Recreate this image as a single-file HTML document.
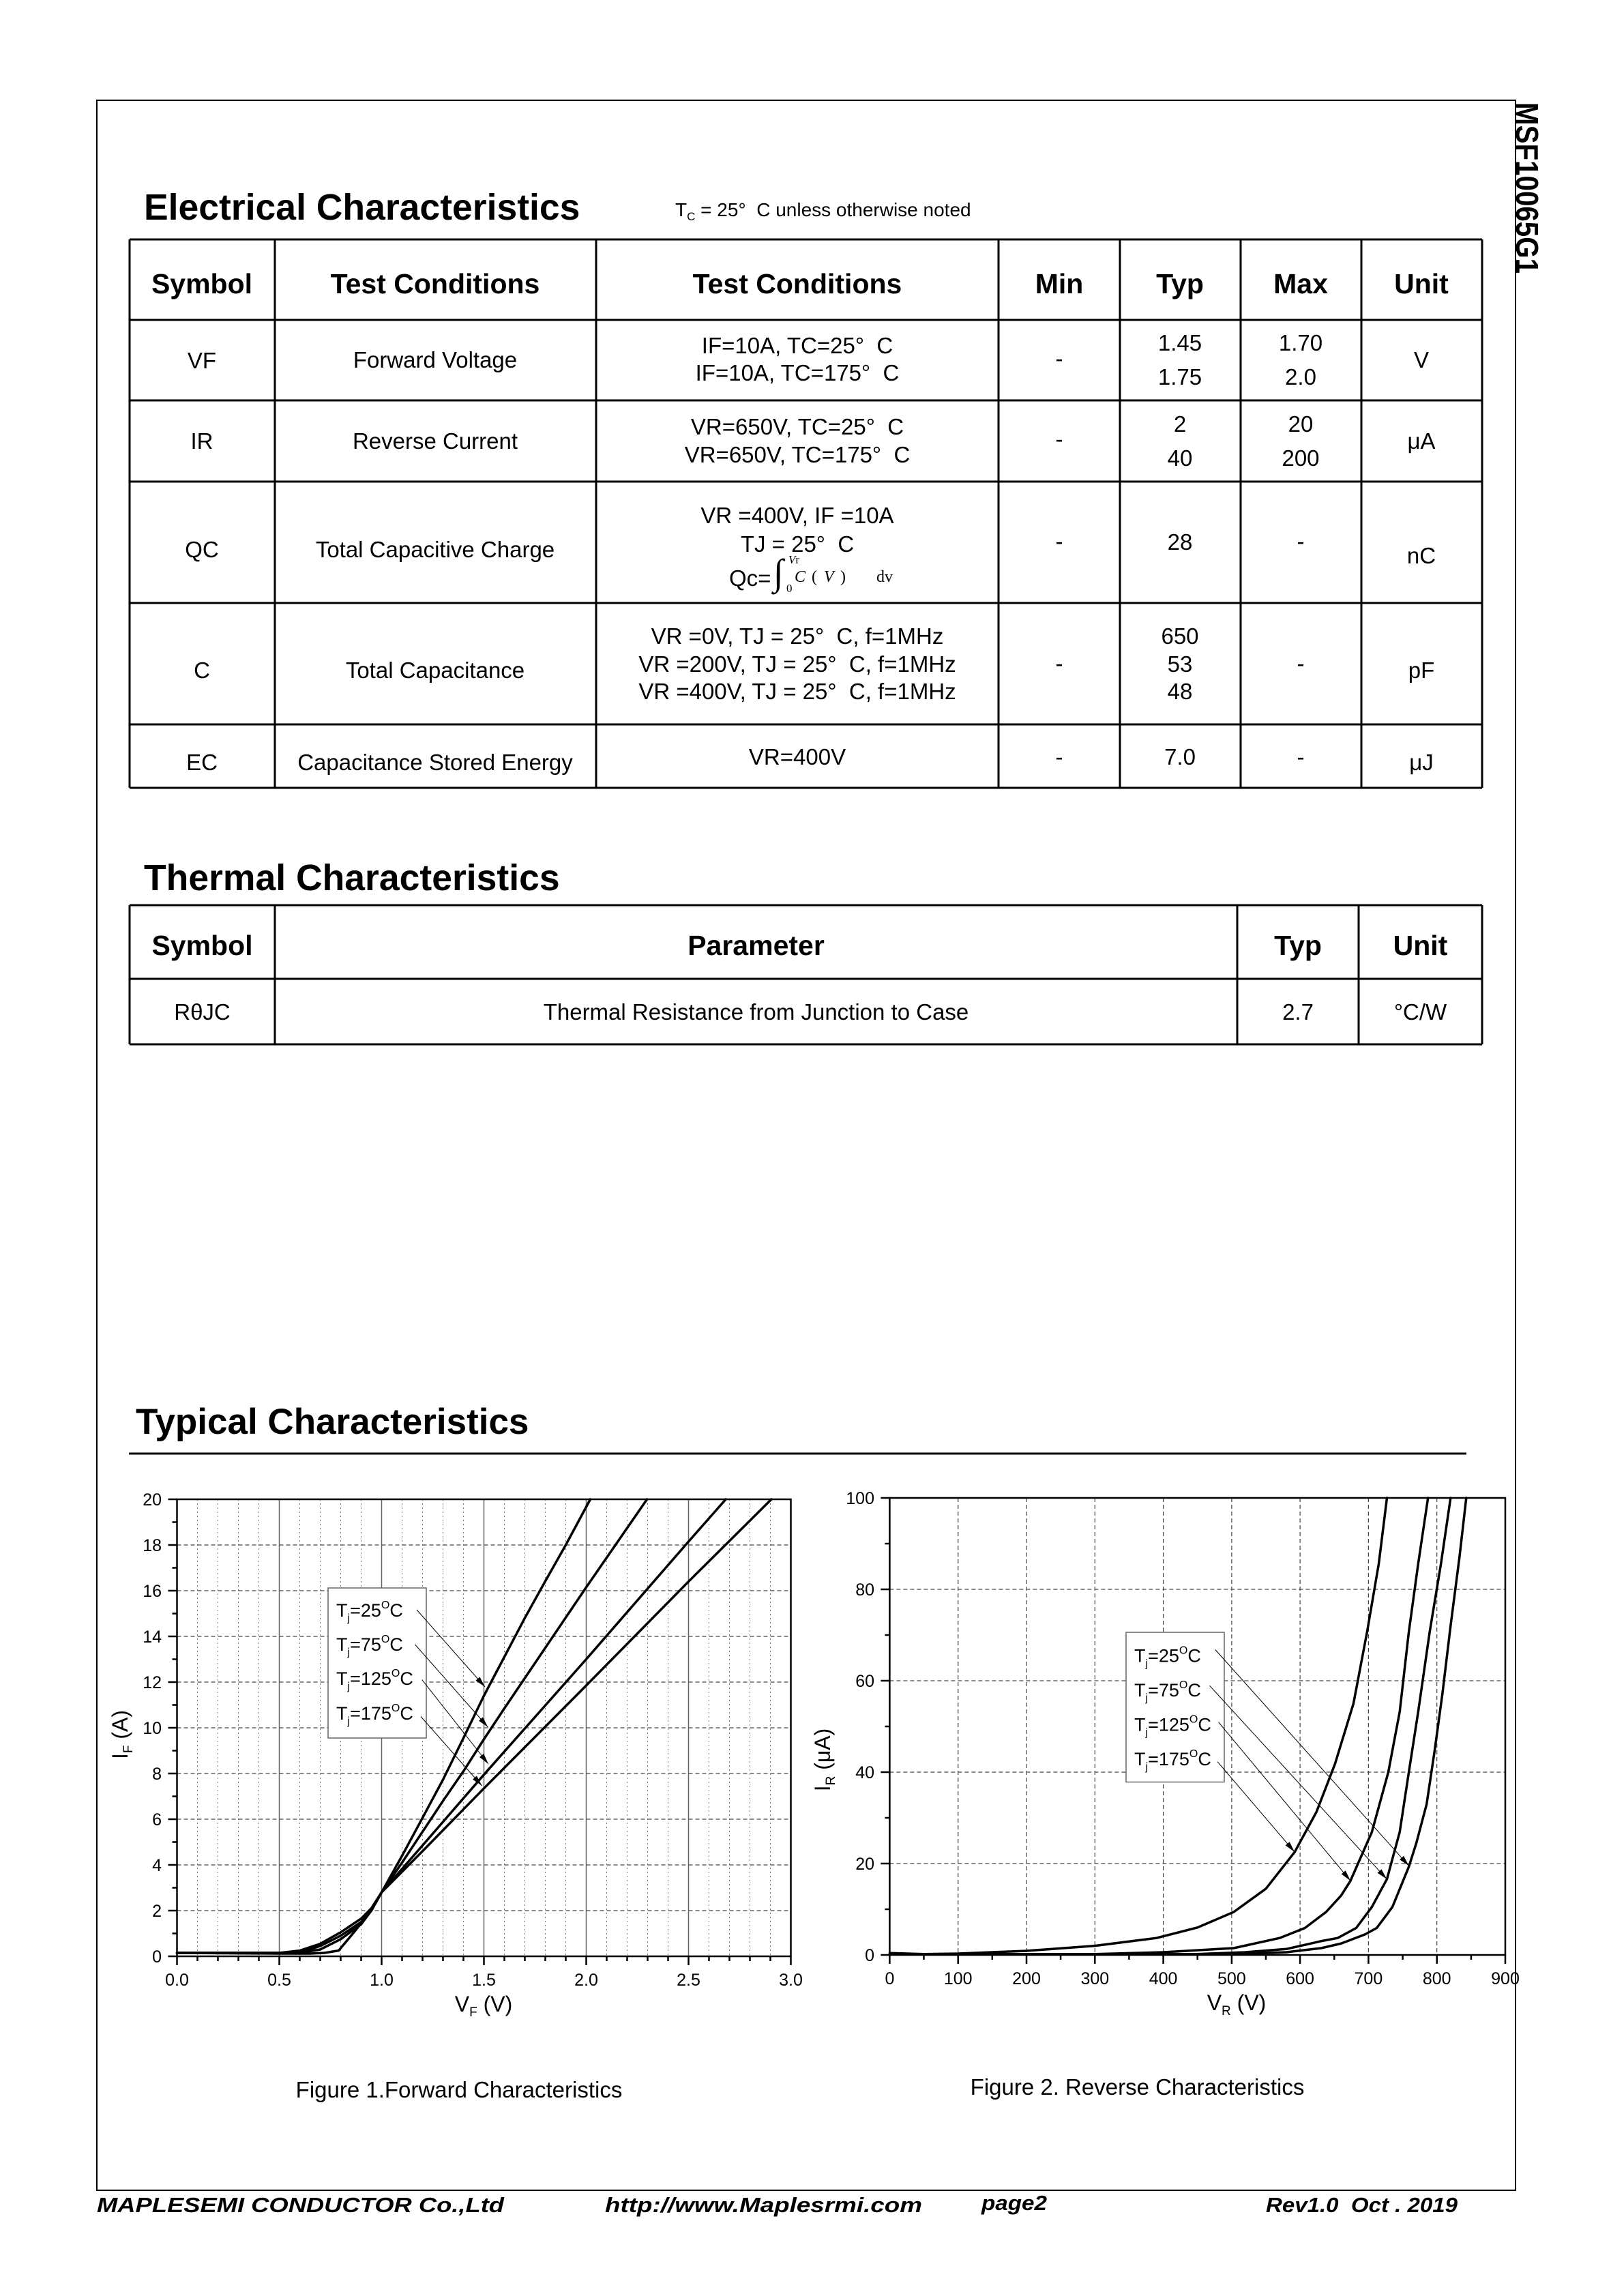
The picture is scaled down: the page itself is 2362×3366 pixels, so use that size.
<!DOCTYPE html>
<html><head><meta charset="utf-8"><style>
html,body{margin:0;padding:0;background:#fff;}
svg{display:block;}
text{font-family:"Liberation Sans",Arial,sans-serif;fill:#000;}
.serif{font-family:"Liberation Serif","DejaVu Serif",serif;}
</style></head><body>
<svg xmlns="http://www.w3.org/2000/svg" width="2362" height="3366" viewBox="0 0 2362 3366">
<defs>
<marker id="ah" markerWidth="16" markerHeight="8" refX="16" refY="4" orient="auto" markerUnits="userSpaceOnUse"><path d="M0,0 L16,4 L0,8 z" fill="#000"/></marker>
</defs>
<rect x="0" y="0" width="2362" height="3366" fill="#fff"/>
<!-- page border -->
<rect x="142" y="147" width="2080" height="3064" fill="none" stroke="#000" stroke-width="2"/>
<text transform="translate(2223,150) rotate(90)" font-size="46" font-weight="bold" textLength="251" lengthAdjust="spacingAndGlyphs">MSF10065G1</text>

<!-- Electrical heading -->
<text x="211" y="322" font-size="53.5" font-weight="bold">Electrical Characteristics</text>
<text x="990" y="317" font-size="28">T<tspan font-size="17" dy="6">C</tspan><tspan dy="-6"> = 25°&#160;&#160;C unless otherwise noted</tspan></text>

<!-- Electrical table lines -->
<g stroke="#000" stroke-width="3" fill="none">
<path d="M190 351H2173M190 469H2173M190 587H2173M190 706H2173M190 884H2173M190 1062H2173M190 1155H2173"/>
<path d="M190 351V1155M403 351V1155M874 351V1155M1464 351V1155M1642 351V1155M1819 351V1155M1996 351V1155M2173 351V1155"/>
</g>
<g font-size="41" font-weight="bold" text-anchor="middle">
<text x="296" y="430">Symbol</text>
<text x="638" y="430">Test Conditions</text>
<text x="1169" y="430">Test Conditions</text>
<text x="1553" y="430">Min</text>
<text x="1730" y="430">Typ</text>
<text x="1907" y="430">Max</text>
<text x="2084" y="430">Unit</text>
</g>
<g font-size="33" text-anchor="middle">
<text x="296" y="540">VF</text>
<text x="638" y="539">Forward Voltage</text>
<text x="1169" y="518">IF=10A, TC=25°&#160;&#160;C</text>
<text x="1169" y="558">IF=10A, TC=175°&#160;&#160;C</text>
<text x="1553" y="537">-</text>
<text x="1730" y="514">1.45</text>
<text x="1730" y="564">1.75</text>
<text x="1907" y="514">1.70</text>
<text x="1907" y="564">2.0</text>
<text x="2084" y="539">V</text>

<text x="296" y="658">IR</text>
<text x="638" y="658">Reverse Current</text>
<text x="1169" y="637">VR=650V, TC=25°&#160;&#160;C</text>
<text x="1169" y="678">VR=650V, TC=175°&#160;&#160;C</text>
<text x="1553" y="655">-</text>
<text x="1730" y="633">2</text>
<text x="1730" y="683">40</text>
<text x="1907" y="633">20</text>
<text x="1907" y="683">200</text>
<text x="2084" y="658">μA</text>

<text x="296" y="817">QC</text>
<text x="638" y="817">Total Capacitive Charge</text>
<text x="1169" y="767">VR =400V, IF =10A</text>
<text x="1169" y="809">TJ = 25°&#160;&#160;C</text>
<text x="1553" y="805">-</text>
<text x="1730" y="806">28</text>
<text x="1907" y="805">-</text>
<text x="2084" y="826">nC</text>

<text x="296" y="994">C</text>
<text x="638" y="994">Total Capacitance</text>
<text x="1169" y="944">VR =0V, TJ = 25°&#160;&#160;C, f=1MHz</text>
<text x="1169" y="985">VR =200V, TJ = 25°&#160;&#160;C, f=1MHz</text>
<text x="1169" y="1025">VR =400V, TJ = 25°&#160;&#160;C, f=1MHz</text>
<text x="1553" y="984">-</text>
<text x="1730" y="944">650</text>
<text x="1730" y="985">53</text>
<text x="1730" y="1025">48</text>
<text x="1907" y="984">-</text>
<text x="2084" y="994">pF</text>

<text x="296" y="1129">EC</text>
<text x="638" y="1129">Capacitance Stored Energy</text>
<text x="1169" y="1121">VR=400V</text>
<text x="1553" y="1121">-</text>
<text x="1730" y="1121">7.0</text>
<text x="1907" y="1121">-</text>
<text x="2084" y="1129">μJ</text>
</g>
<!-- Qc formula -->
<text x="1069" y="859" font-size="33">Qc=</text>
<text class="serif" x="1134" y="857" font-size="54">∫</text>
<text class="serif" x="1156" y="826" font-size="17"><tspan font-style="italic">V</tspan>r</text>
<text class="serif" x="1153" y="868" font-size="17">0</text>
<text class="serif" y="853" font-size="24"><tspan x="1165" font-style="italic">C</tspan><tspan x="1190">(</tspan><tspan x="1208" font-style="italic">V</tspan><tspan x="1232">)</tspan><tspan x="1285">dv</tspan></text>

<!-- Thermal -->
<text x="211" y="1305" font-size="53.5" font-weight="bold">Thermal Characteristics</text>
<g stroke="#000" stroke-width="3" fill="none">
<path d="M190 1327H2173M190 1435H2173M190 1531H2173"/>
<path d="M190 1327V1531M403 1327V1531M1814 1327V1531M1992 1327V1531M2173 1327V1531"/>
</g>
<g font-size="41" font-weight="bold" text-anchor="middle">
<text x="296.5" y="1400">Symbol</text>
<text x="1108.5" y="1400">Parameter</text>
<text x="1903" y="1400">Typ</text>
<text x="2082.5" y="1400">Unit</text>
</g>
<g font-size="33" text-anchor="middle">
<text x="296.5" y="1495">RθJC</text>
<text x="1108.5" y="1495">Thermal Resistance from Junction to Case</text>
<text x="1903" y="1495">2.7</text>
<text x="2082.5" y="1495">°C/W</text>
</g>

<!-- Typical -->
<text x="199" y="2102" font-size="53" font-weight="bold">Typical Characteristics</text>
<path d="M189 2131H2150" stroke="#000" stroke-width="3"/>

<!-- ============ Chart 1 ============ -->
<g fill="none">
<path stroke="#777" stroke-width="1" stroke-dasharray="2 4" d="M289.5 2198V2868M319.5 2198V2868M349.5 2198V2868M379.5 2198V2868M439.5 2198V2868M469.5 2198V2868M499.5 2198V2868M529.5 2198V2868M589.5 2198V2868M619.5 2198V2868M649.5 2198V2868M679.5 2198V2868M739.5 2198V2868M769.5 2198V2868M799.5 2198V2868M829.5 2198V2868M889.5 2198V2868M919.5 2198V2868M949.5 2198V2868M979.5 2198V2868M1039.5 2198V2868M1069.5 2198V2868M1099.5 2198V2868M1129.5 2198V2868"/>
<path stroke="#666" stroke-width="1.5" d="M409.5 2198V2868M559.5 2198V2868M709.5 2198V2868M859.5 2198V2868M1009.5 2198V2868"/>
<path stroke="#444" stroke-width="1.2" stroke-dasharray="6 4" d="M259.5 2801H1159.5M259.5 2734H1159.5M259.5 2667H1159.5M259.5 2600H1159.5M259.5 2533H1159.5M259.5 2466H1159.5M259.5 2399H1159.5M259.5 2332H1159.5M259.5 2265H1159.5"/>
<path stroke="#000" stroke-width="2.5" d="M259.5 2868V2881M409.5 2868V2881M559.5 2868V2881M709.5 2868V2881M859.5 2868V2881M1009.5 2868V2881M1159.5 2868V2881M289.5 2868V2875M319.5 2868V2875M349.5 2868V2875M379.5 2868V2875M439.5 2868V2875M469.5 2868V2875M499.5 2868V2875M529.5 2868V2875M589.5 2868V2875M619.5 2868V2875M649.5 2868V2875M679.5 2868V2875M739.5 2868V2875M769.5 2868V2875M799.5 2868V2875M829.5 2868V2875M889.5 2868V2875M919.5 2868V2875M949.5 2868V2875M979.5 2868V2875M1039.5 2868V2875M1069.5 2868V2875M1099.5 2868V2875M1129.5 2868V2875"/>
<path stroke="#000" stroke-width="2.5" d="M259.5 2868H246.5M259.5 2801H246.5M259.5 2734H246.5M259.5 2667H246.5M259.5 2600H246.5M259.5 2533H246.5M259.5 2466H246.5M259.5 2399H246.5M259.5 2332H246.5M259.5 2265H246.5M259.5 2198H246.5M259.5 2834.5H252.5M259.5 2767.5H252.5M259.5 2700.5H252.5M259.5 2633.5H252.5M259.5 2566.5H252.5M259.5 2499.5H252.5M259.5 2432.5H252.5M259.5 2365.5H252.5M259.5 2298.5H252.5M259.5 2231.5H252.5"/>
<!-- curves -->
<g stroke="#000" stroke-width="3.5" stroke-linejoin="round" stroke-linecap="round">
<polyline points="259.5,2863 409.5,2864 454.5,2864 475.5,2863 496.5,2859.6 517.5,2834.5 544.5,2801 559.5,2774.2 589.5,2720.6 619.5,2665 649.5,2609 679.5,2548 709.5,2486 739.5,2429 769.5,2372 799.5,2318 829.5,2265 865.5,2198"/>
<polyline points="259.5,2863 439.5,2863 469.5,2858 499.5,2842.9 529.5,2821.1 544.5,2801 559.5,2774.2 589.5,2730.65 619.5,2685.4 649.5,2640.2 679.5,2596.65 709.5,2549.75 739.5,2504.5 799.5,2415.75 859.5,2327 948.6,2198"/>
<polyline points="259.5,2863 424.5,2863 454.5,2858 469.5,2852.9 499.5,2837.85 529.5,2817.75 544.5,2799.3 559.5,2774.2 619.5,2705.5 709.5,2601.7 859.5,2432.5 1009.5,2260 1064.1,2198"/>
<polyline points="259.5,2863 409.5,2863 439.5,2859.6 469.5,2849.6 499.5,2832.8 529.5,2812.7 544.5,2797.65 559.5,2774.2 619.5,2713.9 709.5,2621.8 859.5,2471 1009.5,2318.6 1131,2198"/>
</g>
<rect x="259.5" y="2198" width="900" height="670" stroke="#000" stroke-width="2.5"/>
<!-- legend -->
<rect x="481" y="2328" width="144" height="220" fill="#fff" stroke="#666" stroke-width="1.5"/>
<g stroke="#000" stroke-width="1" marker-end="url(#ah)">
<line x1="611" y1="2360" x2="711" y2="2473"/>
<line x1="608.6" y1="2411" x2="715.4" y2="2532"/>
<line x1="618.7" y1="2462.5" x2="716" y2="2586"/>
<line x1="617" y1="2516.5" x2="706.6" y2="2618"/>
</g>
</g>
<g font-size="27">
<text x="493" y="2370">T<tspan font-size="16" dy="7">j</tspan><tspan dy="-7">=25</tspan><tspan font-size="16" dy="-12">O</tspan><tspan dy="12">C</tspan></text>
<text x="493" y="2420">T<tspan font-size="16" dy="7">j</tspan><tspan dy="-7">=75</tspan><tspan font-size="16" dy="-12">O</tspan><tspan dy="12">C</tspan></text>
<text x="493" y="2470">T<tspan font-size="16" dy="7">j</tspan><tspan dy="-7">=125</tspan><tspan font-size="16" dy="-12">O</tspan><tspan dy="12">C</tspan></text>
<text x="493" y="2521">T<tspan font-size="16" dy="7">j</tspan><tspan dy="-7">=175</tspan><tspan font-size="16" dy="-12">O</tspan><tspan dy="12">C</tspan></text>
</g>
<g font-size="25" text-anchor="end">
<text x="237" y="2877">0</text>
<text x="237" y="2810">2</text>
<text x="237" y="2743">4</text>
<text x="237" y="2676">6</text>
<text x="237" y="2609">8</text>
<text x="237" y="2542">10</text>
<text x="237" y="2475">12</text>
<text x="237" y="2408">14</text>
<text x="237" y="2341">16</text>
<text x="237" y="2274">18</text>
<text x="237" y="2207">20</text>
</g>
<g font-size="25" text-anchor="middle">
<text x="259.5" y="2911">0.0</text>
<text x="409.5" y="2911">0.5</text>
<text x="559.5" y="2911">1.0</text>
<text x="709.5" y="2911">1.5</text>
<text x="859.5" y="2911">2.0</text>
<text x="1009.5" y="2911">2.5</text>
<text x="1159.5" y="2911">3.0</text>
</g>
<text x="709" y="2949" font-size="32" text-anchor="middle">V<tspan font-size="19" dy="7">F</tspan><tspan dy="-7"> (V)</tspan></text>
<text transform="translate(187,2543) rotate(-90)" font-size="32" text-anchor="middle">I<tspan font-size="19" dy="7">F</tspan><tspan dy="-7"> (A)</tspan></text>

<!-- ============ Chart 2 ============ -->
<g fill="none">
<path stroke="#444" stroke-width="1.2" stroke-dasharray="6 4" d="M1404.7 2196V2866M1505 2196V2866M1605.3 2196V2866M1705.6 2196V2866M1805.9 2196V2866M1906.1 2196V2866M2006.4 2196V2866M2106.7 2196V2866M1304.4 2732H2207M1304.4 2598H2207M1304.4 2464H2207M1304.4 2330H2207"/>
<path stroke="#000" stroke-width="2.5" d="M1304.4 2866V2879M1404.7 2866V2879M1505 2866V2879M1605.3 2866V2879M1705.6 2866V2879M1805.9 2866V2879M1906.1 2866V2879M2006.4 2866V2879M2106.7 2866V2879M2207 2866V2879M1354.5 2866V2873M1454.8 2866V2873M1555.1 2866V2873M1655.4 2866V2873M1755.7 2866V2873M1856 2866V2873M1956.3 2866V2873M2056.6 2866V2873M2156.9 2866V2873"/>
<path stroke="#000" stroke-width="2.5" d="M1304.4 2866H1291.4M1304.4 2732H1291.4M1304.4 2598H1291.4M1304.4 2464H1291.4M1304.4 2330H1291.4M1304.4 2196H1291.4M1304.4 2799H1297.4M1304.4 2665H1297.4M1304.4 2531H1297.4M1304.4 2397H1297.4M1304.4 2263H1297.4"/>
<g stroke="#000" stroke-width="3.5" stroke-linejoin="round" stroke-linecap="round">
<polyline points="1304.4,2863.3 1354.5,2864.7 1404.7,2864 1505,2860 1605.3,2852.6 1695.5,2841.2 1755.7,2825.8 1808.9,2803 1856,2768.9 1898.1,2715.3 1930.2,2656.3 1957.3,2586 1984.4,2497.5 2004.4,2392.3 2021.5,2292.5 2033.5,2196"/>
<polyline points="1304.4,2865 1605.3,2864.7 1705.6,2862 1808.9,2856 1876.1,2841.2 1913.2,2826.5 1944.3,2803 1966.3,2778.9 1979.9,2757.5 2011.4,2685.8 2035.5,2598 2052.2,2509.6 2065.6,2392.3 2079.3,2292.5 2093.7,2196"/>
<polyline points="1304.4,2865.3 1755.7,2864.7 1825.9,2862 1886.1,2857.3 1910.1,2851.9 1936.2,2845.9 1961.3,2841.2 1988.4,2826.5 2011.4,2795.7 2033.5,2754.8 2052.2,2685.8 2065.6,2598 2079.3,2509.6 2096.2,2392.3 2112.7,2292.5 2126.8,2196"/>
<polyline points="1304.4,2865.3 1805.9,2865 1886.1,2862 1937.2,2856 1966.3,2849.25 2001.4,2835.85 2018.5,2826.5 2041.5,2795.7 2065.6,2736.7 2076.6,2701.9 2091.7,2644.9 2103.7,2564.5 2114.7,2484.1 2126.8,2383.6 2139.8,2283.1 2149.8,2196"/>
</g>
<rect x="1304.4" y="2196" width="902.6" height="670" stroke="#000" stroke-width="2.5"/>
<rect x="1651" y="2393" width="144" height="219.5" fill="#fff" stroke="#666" stroke-width="1.5"/>
<g stroke="#000" stroke-width="1" marker-end="url(#ah)">
<line x1="1781.8" y1="2418.5" x2="2065.7" y2="2735.4"/>
<line x1="1773.6" y1="2471.3" x2="2033.3" y2="2754.8"/>
<line x1="1786.5" y1="2524.7" x2="1979.9" y2="2757.1"/>
<line x1="1785.1" y1="2582.8" x2="1898" y2="2714.9"/>
</g>
</g>
<g font-size="27">
<text x="1663" y="2436.5">T<tspan font-size="16" dy="7">j</tspan><tspan dy="-7">=25</tspan><tspan font-size="16" dy="-12">O</tspan><tspan dy="12">C</tspan></text>
<text x="1663" y="2487">T<tspan font-size="16" dy="7">j</tspan><tspan dy="-7">=75</tspan><tspan font-size="16" dy="-12">O</tspan><tspan dy="12">C</tspan></text>
<text x="1663" y="2537.5">T<tspan font-size="16" dy="7">j</tspan><tspan dy="-7">=125</tspan><tspan font-size="16" dy="-12">O</tspan><tspan dy="12">C</tspan></text>
<text x="1663" y="2588">T<tspan font-size="16" dy="7">j</tspan><tspan dy="-7">=175</tspan><tspan font-size="16" dy="-12">O</tspan><tspan dy="12">C</tspan></text>
</g>
<g font-size="25" text-anchor="end">
<text x="1282" y="2875">0</text>
<text x="1282" y="2741">20</text>
<text x="1282" y="2607">40</text>
<text x="1282" y="2473">60</text>
<text x="1282" y="2339">80</text>
<text x="1282" y="2205">100</text>
</g>
<g font-size="25" text-anchor="middle">
<text x="1304.4" y="2909">0</text>
<text x="1404.7" y="2909">100</text>
<text x="1505" y="2909">200</text>
<text x="1605.3" y="2909">300</text>
<text x="1705.6" y="2909">400</text>
<text x="1805.9" y="2909">500</text>
<text x="1906.1" y="2909">600</text>
<text x="2006.4" y="2909">700</text>
<text x="2106.7" y="2909">800</text>
<text x="2207" y="2909">900</text>
</g>
<text x="1813" y="2947" font-size="32" text-anchor="middle">V<tspan font-size="19" dy="7">R</tspan><tspan dy="-7"> (V)</tspan></text>
<text transform="translate(1217,2580) rotate(-90)" font-size="32" text-anchor="middle">I<tspan font-size="19" dy="7">R</tspan><tspan dy="-7"> (μA)</tspan></text>

<!-- captions -->
<text x="673" y="3075" font-size="33" text-anchor="middle">Figure 1.Forward Characteristics</text>
<text x="1667.5" y="3071" font-size="33" text-anchor="middle">Figure 2. Reverse Characteristics</text>

<!-- footer -->
<g font-size="31" font-weight="bold" font-style="italic">
<text x="142" y="3243" textLength="597" lengthAdjust="spacingAndGlyphs">MAPLESEMI CONDUCTOR Co.,Ltd</text>
<text x="887" y="3243" textLength="465" lengthAdjust="spacingAndGlyphs">http://www.Maplesrmi.com</text>
<text x="1439" y="3240" textLength="96" lengthAdjust="spacingAndGlyphs">page2</text>
<text x="1856" y="3243" textLength="281" lengthAdjust="spacingAndGlyphs">Rev1.0&#160;&#160;Oct . 2019</text>
</g>
</svg>
</body></html>
